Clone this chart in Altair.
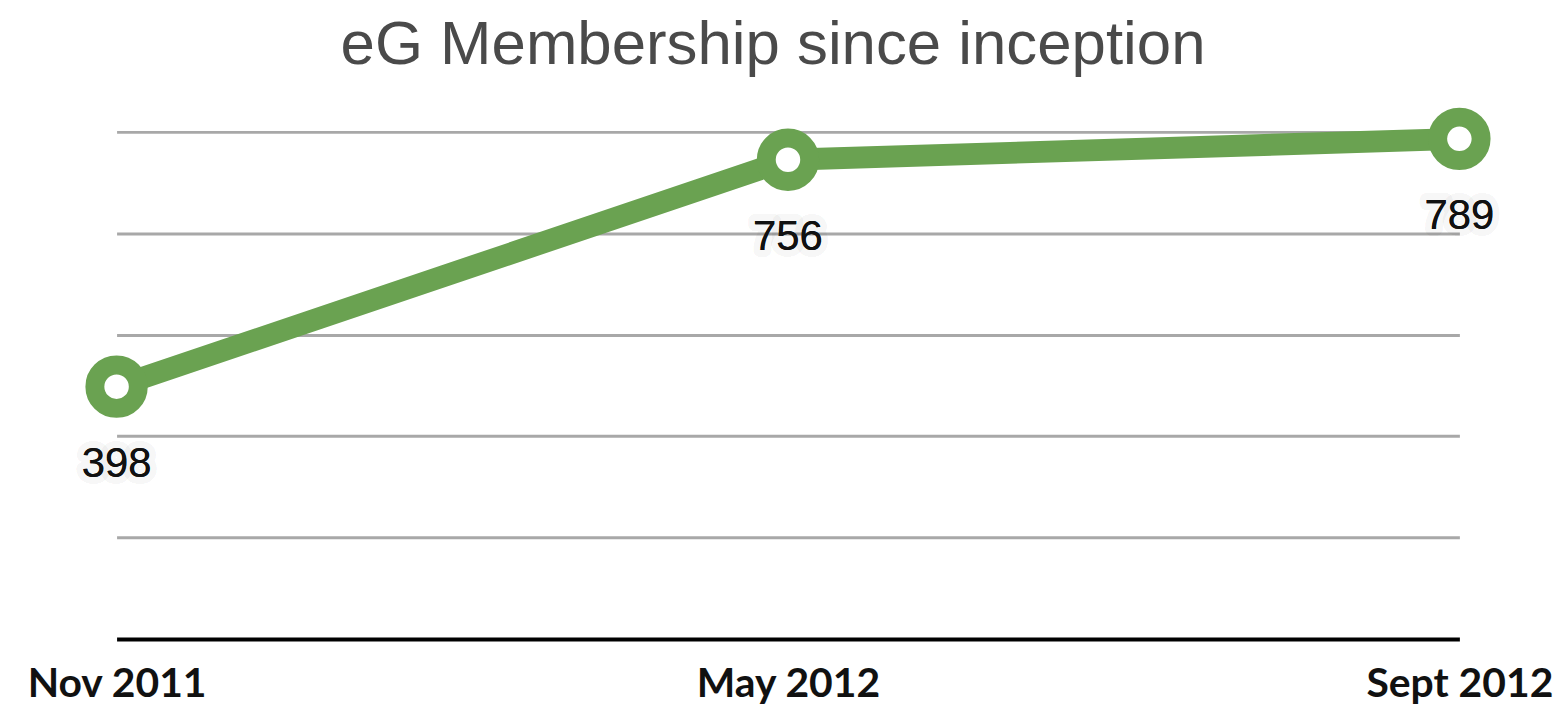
import altair as alt
import pandas as pd

periods = ["Nov 2011", "May 2012", "Sept 2012"]
members = [398, 756, 789]
labels = ["398", "756", "789"]

df = pd.DataFrame({"period": periods, "members": members, "label": labels})

GREEN = "#6aa251"

x = alt.X(
    "period:N",
    sort=periods,
    scale=alt.Scale(type="point", padding=0),
    axis=alt.Axis(
        title=None,
        labelAngle=0,
        labelFont="Lato",
        labelFontWeight="bold",
        labelFontSize=41,
        labelColor="#111111",
        labelPadding=26,
        labelOverlap=False,
        labelLimit=600,
        ticks=False,
        domain=True,
        domainColor="#000000",
        domainWidth=4,
        grid=False,
    ),
)
y = alt.Y(
    "members:Q",
    scale=alt.Scale(domain=[0, 800], nice=False),
    axis=alt.Axis(
        title=None,
        labels=False,
        ticks=False,
        domain=False,
        values=[160, 320, 480, 640, 800],
        grid=True,
        gridColor="#a8a8a8",
        gridWidth=3,
    ),
)

base = alt.Chart(df)

line = base.mark_line(color=GREEN, strokeWidth=22).encode(x=x, y=y)
points = base.mark_point(
    shape="circle", filled=False, fill="white", fillOpacity=1,
    stroke=GREEN, strokeWidth=19, size=1900, opacity=1,
).encode(x=x, y=y)
halo = base.mark_text(
    font="Liberation Sans", fontSize=42, baseline="top", dy=58,
    color="#000000", stroke="#000000", strokeWidth=14, strokeOpacity=0.05,
    strokeJoin="round",
).encode(x=x, y=y, text="label:N")
text = base.mark_text(
    font="Liberation Sans", fontSize=42, baseline="top", dy=58, color="#111111",
).encode(x=x, y=y, text="label:N")

chart = (
    alt.layer(line, points, halo, text)
    .properties(
        width=1348,
        height=509,
        padding={"left": 109, "top": 123, "right": 100, "bottom": 68},
        autosize=alt.AutoSizeParams(type="none"),
        view=alt.ViewBackground(stroke="transparent", strokeWidth=0),
        title=alt.TitleParams(
            "eG Membership since inception",
            font="Liberation Sans",
            fontSize=62,
            fontWeight="normal",
            color="#4a4a4a",
            anchor="middle",
            offset=2,
            dx=-15,
        ),
    )
    .configure_view(strokeWidth=0, stroke="transparent")
    .configure(background="white")
)

chart.save("out.html", embed_options={"renderer": "svg", "actions": False})
